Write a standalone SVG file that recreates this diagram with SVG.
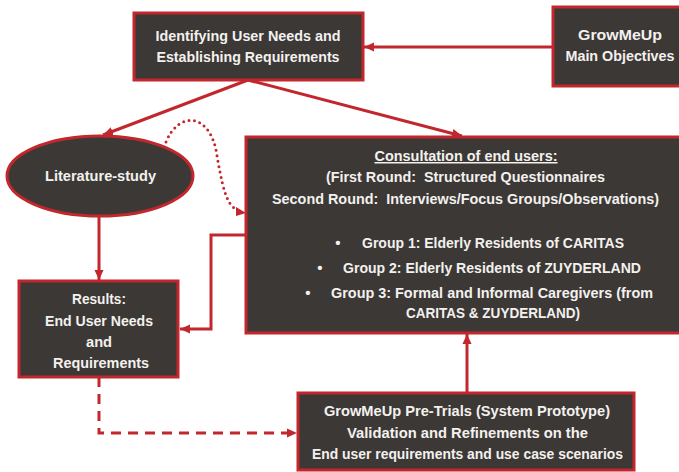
<svg xmlns="http://www.w3.org/2000/svg" width="679" height="472" viewBox="0 0 679 472">
  <defs>
    <style>
      .box { fill: #3c3836; stroke: #c1272d; stroke-width: 3; }
      .lbl { font-family: "Liberation Sans", Arial, sans-serif; font-weight: bold; font-size: 15px; fill: #f3f1ee; text-anchor: middle; }
      .lft { text-anchor: start; }
      .wire { fill: none; stroke: #c1272d; stroke-width: 3; }
      .dash { stroke-dasharray: 10 7; }
      .dots { stroke-dasharray: 0 5.5; stroke-linecap: round; }
    </style>
    <marker id="head" markerUnits="userSpaceOnUse" viewBox="0 0 10 10" refX="10" refY="5" markerWidth="10" markerHeight="10" orient="auto">
      <path d="M0,0.5 L10,5 L0,9.5 Z" fill="#c1272d"/>
    </marker>
  </defs>

  <rect width="679" height="472" fill="#ffffff"/>

  <!-- connectors -->
  <g id="connectors">
    <line class="wire" x1="553" y1="47" x2="364" y2="47" marker-end="url(#head)"/>
    <line class="wire" x1="248" y1="80" x2="103" y2="135" marker-end="url(#head)"/>
    <line class="wire" x1="248" y1="80" x2="462" y2="136" marker-end="url(#head)"/>
    <line class="wire" x1="99" y1="216" x2="99" y2="280" marker-end="url(#head)"/>
    <path class="wire dots" d="M166,142 C178,112 208,112 216,150 C222,185 226,204 236,209" />
    <path d="M236,207 L246,213 L236,216 Z" fill="#c1272d"/>
    <polyline class="wire" points="246,235 211,235 211,329 180,329" marker-end="url(#head)"/>
    <polyline class="wire dash" points="99,377 99,433 297,433" marker-end="url(#head)"/>
    <line class="wire" x1="467" y1="393" x2="467" y2="334" marker-end="url(#head)"/>
  </g>

  <!-- top requirement node -->
  <g id="identify">
    <rect class="box" x="134" y="13" width="229" height="67"/>
    <text class="lbl" x="248" y="41" textLength="185" lengthAdjust="spacingAndGlyphs">Identifying User Needs and</text>
    <text class="lbl" x="248" y="62" textLength="183" lengthAdjust="spacingAndGlyphs">Establishing Requirements</text>
  </g>

  <!-- objectives node -->
  <g id="objectives">
    <rect class="box" x="553" y="7" width="135" height="79"/>
    <text class="lbl" x="620" y="40" textLength="84" lengthAdjust="spacingAndGlyphs">GrowMeUp</text>
    <text class="lbl" x="620" y="61" textLength="109" lengthAdjust="spacingAndGlyphs">Main Objectives</text>
  </g>

  <!-- literature node -->
  <g id="literature">
    <ellipse class="box" cx="100" cy="176" rx="93" ry="40"/>
    <text class="lbl" x="100.5" y="181" textLength="111" lengthAdjust="spacingAndGlyphs">Literature-study</text>
  </g>

  <!-- consultation node -->
  <g id="consultation">
    <rect class="box" x="246" y="137" width="440" height="196"/>
    <text class="lbl" x="466" y="161" textLength="183" lengthAdjust="spacingAndGlyphs" text-decoration="underline">Consultation of end users:</text>
    <text class="lbl" x="465.5" y="182" textLength="279" lengthAdjust="spacingAndGlyphs" xml:space="preserve">(First Round:  Structured Questionnaires</text>
    <text class="lbl" x="465.5" y="204" textLength="387" lengthAdjust="spacingAndGlyphs" xml:space="preserve">Second Round:  Interviews/Focus Groups/Observations)</text>
    <text class="lbl" x="338" y="248">•</text>
    <text class="lbl lft" x="362" y="248" textLength="262" lengthAdjust="spacingAndGlyphs">Group 1: Elderly Residents of CARITAS</text>
    <text class="lbl" x="320" y="273">•</text>
    <text class="lbl lft" x="343" y="273" textLength="298" lengthAdjust="spacingAndGlyphs">Group 2: Elderly Residents of ZUYDERLAND</text>
    <text class="lbl" x="308" y="298">•</text>
    <text class="lbl lft" x="331" y="298" textLength="322" lengthAdjust="spacingAndGlyphs">Group 3: Formal and Informal Caregivers (from</text>
    <text class="lbl lft" x="406" y="318" textLength="174" lengthAdjust="spacingAndGlyphs">CARITAS &amp; ZUYDERLAND)</text>
  </g>

  <!-- results node -->
  <g id="results">
    <rect class="box" x="19" y="281" width="159" height="96"/>
    <text class="lbl" x="99" y="304" textLength="54" lengthAdjust="spacingAndGlyphs">Results:</text>
    <text class="lbl" x="99" y="326" textLength="108" lengthAdjust="spacingAndGlyphs">End User Needs</text>
    <text class="lbl" x="99" y="347" textLength="26" lengthAdjust="spacingAndGlyphs">and</text>
    <text class="lbl" x="101" y="368" textLength="96" lengthAdjust="spacingAndGlyphs">Requirements</text>
  </g>

  <!-- pre-trials node -->
  <g id="pretrials">
    <rect class="box" x="298" y="393" width="336" height="77"/>
    <text class="lbl" x="467" y="416" textLength="286" lengthAdjust="spacingAndGlyphs">GrowMeUp Pre-Trials (System Prototype)</text>
    <text class="lbl" x="467.5" y="438" textLength="241" lengthAdjust="spacingAndGlyphs">Validation and Refinements on the</text>
    <text class="lbl" x="467.5" y="459" textLength="311" lengthAdjust="spacingAndGlyphs">End user requirements and use case scenarios</text>
  </g>
</svg>
